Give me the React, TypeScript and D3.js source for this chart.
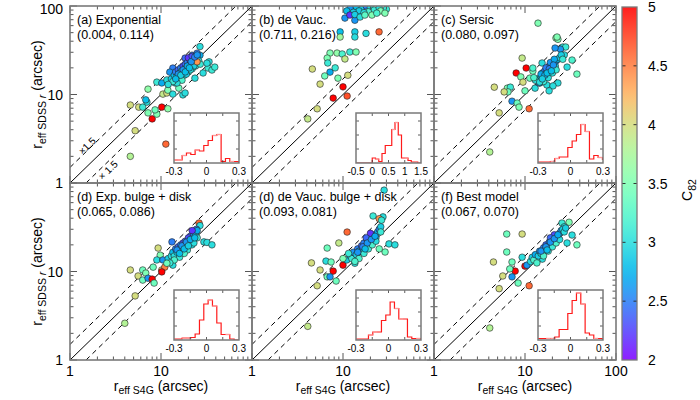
import React from 'react';
import * as d3 from 'd3';

type Pt = [number, number, number]; // [reff S4G, reff SDSS r, C82]

// (a) Exponential
const aPoints: Pt[] = [
  [26.8, 34.8, 3.0], [4.6, 2.0, 3.8], [5.2, 3.9, 4.0], [4.6, 7.6, 4.0], [5.7, 7.2, 4.0], [6.3, 7.2, 3.1],
  [7.0, 8.2, 3.0], [6.8, 8.7, 2.8], [7.2, 6.2, 3.5], [8.0, 5.3, 5.0], [9.0, 6.0, 3.5], [8.6, 6.7, 3.4],
  [10.2, 7.2, 5.0], [11.9, 6.9, 3.6], [11.3, 2.75, 4.6], [7.2, 11.5, 3.6], [9.0, 13.8, 3.1], [10.5, 10.1, 3.9],
  [11.6, 10.4, 4.0], [11.9, 11.2, 3.5], [13.5, 10.1, 3.0], [17.4, 9.9, 3.0], [10.2, 13.5, 2.7], [14.3, 13.5, 3.0],
  [23.6, 15.3, 3.0], [29.0, 17.5, 3.0], [32.9, 19.9, 3.1], [36.3, 18.9, 3.1], [33.7, 23.4, 3.0], [32, 22.6, 3.0],
  [39, 20.4, 3.1], [18.4, 10.4, 3.0], [15.7, 11.8, 3.4], [26.8, 27.8, 2.7], [21.9, 27.8, 2.5], [18.4, 25.8, 2.4],
  [24.9, 29.3, 2.5], [13.5, 19.9, 2.5], [12.5, 17.9, 2.6], [11.6, 14.6, 3.0],
  [13, 15, 2.9], [14, 16.5, 2.8], [14.5, 18, 2.5], [15, 16, 2.9], [15.5, 19, 2.4], [16, 17.5, 2.7],
  [16.5, 20, 2.5], [17, 18.5, 2.9], [17.5, 21, 2.3], [18, 19, 2.8], [18.5, 22, 2.4], [19, 20, 2.9],
  [19.5, 23, 2.5], [20, 21, 2.8], [21, 24, 2.4], [21.5, 22, 2.9], [22, 25, 2.5], [23, 25, 2.6],
  [24, 23, 2.9], [25, 26, 2.7], [26, 24, 3.0], [16, 15, 3.1], [18, 16.5, 3.0], [20, 18, 3.1],
  [22, 19.5, 3.0], [24, 21, 3.1], [17, 14.5, 3.2], [15, 13.5, 3.0], [19, 17, 2.9], [23, 21, 2.9],
  [27, 22, 3.1], [21, 19, 3.0], [13.5, 14, 3.1], [12, 13, 3.0], [24.9, 23.4, 4.4], [20, 26, 2.2], [22, 27, 2.3],
  [15.5, 17, 2.6], [17.5, 19, 2.6], [19.5, 21, 2.7], [21.5, 23.5, 2.6], [23.5, 26.5, 2.5], [16.5, 16.5, 2.9],
  [18.5, 18, 2.8], [20.5, 20, 2.8], [14.5, 15, 2.8], [25, 28, 2.6],
];

// (b) de Vauc.
const bPoints: Pt[] = [
  [12, 95, 2.6], [14, 98, 2.8], [16, 92, 2.9], [18, 100, 2.5], [20, 96, 3.0], [22, 90, 3.1], [25, 95, 3.0],
  [15, 88, 2.9], [19, 86, 3.2], [26, 88, 3.5], [30, 92, 3.1], [11, 88, 2.8], [13, 85, 2.9], [17, 84, 3.0],
  [10.5, 73, 2.6], [11.9, 79, 2.2], [13.5, 69, 2.6], [13.5, 80, 2.9], [15.4, 75, 3.0], [17.4, 79, 3.3],
  [20.8, 79, 3.5], [23.5, 83, 3.2], [28.9, 83, 3.5], [24.9, 51, 4.6], [17.9, 49, 3.0], [13.5, 51, 2.9],
  [13.5, 44.6, 3.0], [9.3, 51, 2.8], [9.3, 44.6, 3.7], [7.2, 29.4, 3.5], [8.6, 29.4, 3.6], [9.8, 28.7, 3.2],
  [11.9, 30.2, 3.1], [13.9, 30.2, 3.5], [6.7, 25.8, 3.5], [10.5, 25.2, 3.9], [6.8, 22.7, 3.1], [4.6, 19.4, 4.0],
  [7.2, 17.9, 2.7], [8.2, 20, 3.1], [6.3, 16.2, 3.4], [8.8, 15.3, 3.5], [11.3, 16.5, 4.0], [5.6, 13.1, 4.0],
  [10.0, 12.2, 5.0], [7.8, 9.1, 5.0], [11.1, 9.6, 4.7], [5.2, 6.9, 4.0], [4.1, 5.3, 3.9],
];

// (c) Sersic
const cPoints: Pt[] = [
  [13.9, 64, 3.5], [21.9, 43.5, 3.6], [23, 42, 3.5], [26.1, 34.4, 3.0], [28, 34.4, 3.1], [24.5, 32.5, 2.6],
  [22.5, 44.6, 3.5], [21.4, 33.5, 2.6], [9.3, 25.8, 3.9], [10.3, 19.9, 5.0], [8.0, 17.5, 5.0], [9.0, 15.8, 3.5],
  [9.5, 13.8, 4.0], [12.2, 18.4, 3.4], [12.2, 19.9, 3.2], [15.4, 22.7, 3.0], [4.6, 12.1, 4.0], [6.4, 11.8, 3.5],
  [6.9, 12.1, 3.1], [6.5, 10.7, 3.4], [5.9, 10.7, 4.0], [5.2, 6.2, 4.0], [7.2, 8.4, 2.6], [8.2, 8.0, 3.4],
  [8.6, 7.2, 3.5], [11.1, 6.9, 4.6], [4.1, 2.24, 3.8], [37.2, 17.0, 3.4], [29, 20.4, 3.0], [32.9, 24.5, 3.2],
  [27, 28, 3.0], [17.4, 12.8, 3.0], [12.9, 11.8, 3.0], [14.6, 13.5, 3.0], [11.3, 15.3, 3.4], [23, 13.5, 3.0],
  [20.3, 12.5, 3.0], [18.4, 11, 3.0], [10, 11, 3.4], [14.3, 13.5, 2.6],
  [14, 15, 2.9], [15, 16, 2.8], [15.5, 17.5, 2.6], [16, 15.5, 3.0], [16.5, 18.5, 2.5], [17, 17, 2.7],
  [17.5, 19.5, 2.4], [18, 18, 2.8], [18.5, 21, 2.3], [19, 19.5, 2.6], [19.5, 22, 2.4], [20, 20, 2.9],
  [21, 23, 2.5], [21.5, 21, 2.9], [22, 24, 2.6], [23, 25, 2.8], [24, 26, 2.9], [16, 14, 3.1],
  [18, 15.5, 3.0], [20, 17.5, 3.0], [22, 19, 3.1], [13, 14.5, 3.0], [14.5, 13.8, 3.0], [17, 20, 2.5],
  [19, 23, 2.6], [15, 17, 2.7], [25, 28, 2.9], [21, 25, 2.7], [12.5, 15.5, 3.2], [26, 25, 3.1],
  [16.5, 16.5, 2.7], [18.5, 19.5, 2.5], [20.5, 21.5, 2.6], [17.5, 17.5, 2.8], [19.5, 18.5, 2.8], [15.5, 15, 2.9],
];

// (d) Exp. bulge + disk
const dPoints: Pt[] = [
  [26.2, 35.3, 4.6], [26.8, 33, 3.0], [24.5, 30, 2.5], [29.6, 21.6, 3.0], [32, 21.3, 3.0], [36.3, 20, 3.0],
  [13.2, 21.6, 2.5], [9.3, 18.4, 4.0], [9.8, 15.3, 3.5], [9.0, 13.5, 3.0], [10.5, 13.5, 2.6], [4.6, 10.4, 4.0],
  [6.3, 10.4, 3.4], [8.2, 11.2, 3.4], [6.8, 9.6, 3.5], [5.6, 8.9, 4.0], [6.3, 8.0, 3.4], [7.2, 8.4, 2.6],
  [8.0, 8.2, 5.0], [8.4, 7.4, 3.4], [10.2, 10.4, 4.1], [11, 11.2, 4.5], [10.2, 9.9, 5.0], [5.2, 5.3, 4.0],
  [4.0, 2.6, 3.8], [13.5, 11.8, 3.0], [21.9, 20, 3.0],
  [12, 14, 2.9], [13, 15, 3.0], [13.5, 16.5, 2.8], [14, 15, 3.0], [14.5, 18, 2.5], [15, 16.5, 2.9],
  [15.5, 19, 2.4], [16, 17.5, 2.9], [16.5, 20, 2.5], [17, 18.5, 2.8], [17.5, 21, 2.3], [18, 19, 3.0],
  [18.5, 22, 2.4], [19, 20, 2.9], [20, 23, 2.5], [20.5, 21, 2.9], [21, 25, 2.4], [22, 23, 2.9],
  [23, 26, 2.6], [24, 27, 2.8], [25, 29, 2.7], [22, 29, 2.2], [19.5, 17.5, 3.1], [16, 14.5, 3.1],
  [18, 16, 3.2], [23, 21, 3.0], [25, 24, 3.1], [14, 13.5, 3.2], [12.5, 12.5, 3.1], [20, 24, 2.3], [11.6, 12.4, 3.4],
  [15, 17.5, 2.6], [17, 19.5, 2.6], [19, 21.5, 2.6], [21, 23, 2.7], [16, 16, 2.8], [18, 18, 2.8],
  [20, 19.5, 2.9], [23.5, 24, 2.8],
];

// (e) de Vauc. bulge + disk
const ePoints: Pt[] = [
  [28.3, 83, 3.0], [21.4, 42.4, 3.1], [27.5, 41.4, 3.0], [25, 39.5, 4.4], [26.5, 38, 3.1], [11.1, 27.9, 4.6],
  [9.0, 21, 3.9], [6.7, 18.4, 3.4], [4.5, 12.5, 4.0], [6.5, 13.1, 3.0], [7.4, 12.8, 3.4], [5.6, 10.4, 4.0],
  [7.8, 10.1, 5.0], [6.7, 8.7, 3.4], [7.2, 8.7, 2.6], [10, 11.8, 5.0], [8.4, 7.8, 3.4], [5.2, 6.9, 4.0],
  [4.1, 2.4, 3.9], [32, 20.5, 3.0], [37.2, 20, 3.0], [29, 16.6, 3.4], [25, 18, 3.4], [13.5, 12.4, 3.0],
  [11, 13.5, 2.9], [12, 15, 2.8], [12.5, 14, 3.1], [13, 16.5, 2.6], [14, 15.5, 2.9], [14.5, 18, 2.5],
  [15, 17, 2.7], [16, 19.5, 2.4], [16.5, 18, 2.8], [17, 21, 2.5], [18, 19.5, 2.9], [18.5, 22.5, 2.4],
  [19, 21, 2.7], [20, 24, 2.5], [21, 22.5, 2.9], [22, 26, 2.6], [23, 24, 2.9], [24, 28, 2.7],
  [25, 30, 2.5], [26, 32, 2.9], [20, 27, 2.2], [15, 14, 3.2], [17, 16, 3.1], [19, 18, 3.1],
  [21, 20, 3.2], [23, 22, 3.0], [13.5, 13, 3.2], [10, 14, 3.5], [11.5, 16, 3.1], [18, 24, 2.4], [26, 28, 3.1],
  [14.5, 16.5, 2.6], [16.5, 19, 2.5], [18.5, 21, 2.6], [20.5, 23, 2.6], [22.5, 25, 2.7], [17.5, 18, 2.8],
];

// (f) Best model
const fPoints: Pt[] = [
  [25.5, 35.3, 3.1], [30.5, 36, 3.5], [27, 32, 3.0], [6.3, 26.5, 3.4], [9.3, 26.5, 4.0], [6.3, 16.6, 3.4],
  [9.3, 14.5, 3.0], [7.2, 12.8, 3.4], [4.5, 12.8, 4.0], [10, 11.5, 5.0], [7.8, 10.1, 5.0], [6.8, 10.7, 3.4],
  [5.7, 8.9, 4.0], [7.2, 8.7, 2.6], [8.4, 7.4, 3.4], [5.2, 6.4, 4.0], [11.1, 6.9, 4.6], [4.1, 2.3, 3.8],
  [37.2, 20, 3.4], [29, 21, 3.0], [32.9, 25.8, 3.0], [15.5, 13.8, 3.0], [13.5, 13.1, 3.0], [10.5, 11.8, 2.6],
  [11.5, 13, 3.0], [12, 14.5, 2.9], [12.5, 13.5, 3.2], [13, 15.5, 2.7], [14, 15, 2.9], [14.5, 17, 2.6],
  [15, 16, 2.9], [16, 18.5, 2.5], [16.5, 17.5, 2.8], [17, 20, 2.4], [18, 19, 2.9], [18.5, 21.5, 2.5],
  [19, 20, 2.8], [20, 23, 2.4], [21, 22, 2.9], [22, 25, 2.6], [23, 24, 2.9], [24, 27, 2.7],
  [25, 29, 2.6], [26, 30, 2.9], [27, 28, 3.0], [21, 26, 2.3], [16, 15, 3.2], [18, 17, 3.1],
  [20, 19, 3.1], [22, 21, 3.2], [24, 23, 3.0], [13.5, 12.5, 3.2], [19, 24, 2.4], [28, 31, 2.9],
  [15, 17, 2.6], [17, 19, 2.6], [19, 21.5, 2.6], [21, 23.5, 2.6], [23, 26, 2.7], [17.5, 17.5, 2.8],
];

const panelPoints = [aPoints, bPoints, cPoints, dPoints, ePoints, fPoints];
const panelNames = ['(a) Exponential', '(b) de Vauc.', '(c) Sersic', '(d) Exp. bulge + disk', '(d) de Vauc. bulge + disk', '(f) Best model'];
const panelStats = ['(0.004, 0.114)', '(0.711, 0.216)', '(0.080, 0.097)', '(0.065, 0.086)', '(0.093, 0.081)', '(0.067, 0.070)'];

// inset histograms of log ratio, heights as fraction of inset height
const histA = [0.06, 0.06, 0.15, 0.2, 0.17, 0.26, 0.24, 0.35, 0.45, 0.55, 0.57, 0.03, 0.09, 0.03, 0.03, 0];
const histB = [0, 0, 0, 0, 0, 0.1, 0.08, 0.03, 0.19, 0.35, 0.35, 0.67, 0.81, 0.56, 0.1, 0.1, 0.05, 0.02, 0.02, 0];
const histC = [0.02, 0.02, 0.02, 0.03, 0.09, 0.12, 0.12, 0.31, 0.44, 0.57, 0.77, 0.63, 0.08, 0.15, 0.11, 0.07];
const histD = [0.02, 0.02, 0.04, 0.04, 0.05, 0.12, 0.4, 0.72, 0.8, 0.68, 0.34, 0.11, 0.11, 0.02, 0, 0];
const histE = [0.02, 0.02, 0.02, 0.1, 0.16, 0.16, 0.39, 0.5, 0.76, 0.63, 0.42, 0.42, 0.06, 0.03, 0.03, 0];
const histF = [0.03, 0.03, 0.03, 0.03, 0.06, 0.21, 0.21, 0.53, 0.79, 0.94, 0.72, 0.14, 0.1, 0.03, 0.03, 0];
const panelHist = [histA, histB, histC, histD, histE, histF];
const pinkBins = [[1, 2, 5, 9, 10, 13], [6, 11, 12, 15], [3, 4, 10, 11, 14], [2, 3, 8, 9, 12], [3, 4, 9, 10, 14], [2, 3, 9, 10, 13]];
const histStart = [-0.305, -0.5, -0.305, -0.305, -0.305, -0.305];
const histStep = [0.04, 0.1, 0.04, 0.04, 0.04, 0.04];
const insetDomains: [number, number][] = [[-0.3, 0.3], [-0.5, 1.5], [-0.3, 0.3], [-0.3, 0.3], [-0.3, 0.3], [-0.3, 0.3]];
const insetLabels = [[-0.3, 0, 0.3], [-0.5, 0, 0.5, 1, 1.5], [-0.3, 0, 0.3], [-0.3, 0, 0.3], [-0.3, 0, 0.3], [-0.3, 0, 0.3]];
const insetTicks = [[-0.15, 0, 0.15], [0, 0.5, 1], [-0.15, 0, 0.15], [-0.15, 0, 0.15], [-0.15, 0, 0.15], [-0.15, 0, 0.15]];
const insetYTicks = [0.28, 0.56, 0.84];

const leftLabels = [[1, 10, 100], [1, 10]];
const bottomLabels = [[1, 10], [1, 10], [1, 10, 100]];
const colorTicks = [2, 2.5, 3, 3.5, 4, 4.5, 5];

const COL_X = [70, 252, 434];
const ROW_Y = [6, 183];
const PW = 182;
const PH = 177;
const FONT = 'Liberation Sans, Arial, Helvetica, sans-serif';
const FRAME = '#7a7a7a';

const cNorm = d3.scaleLinear().domain([2, 5]).range([0, 1]).clamp(true);
// gnuplot rainbow palette (rgbformulae 33,13,10)
function rainbow(c: number) {
  const t = cNorm(c);
  const r = Math.min(1, Math.abs(2 * t - 0.5));
  const g = Math.sin(Math.PI * t);
  const b = Math.cos((Math.PI * t) / 2);
  return d3.rgb(r * 255, g * 255, b * 255).formatHex();
}

function fmt(v: number) {
  return v === 0 ? '0' : String(v);
}

function Inset({ idx, x0, y0 }: { idx: number; x0: number; y0: number }) {
  const ix = x0 + 104;
  const iw = 65;
  const iy = y0 + 107;
  const ih = 50;
  const hx = d3.scaleLinear().domain(insetDomains[idx]).range([ix, ix + iw]);
  const hy = d3.scaleLinear().domain([0, 1]).range([iy + ih, iy]);
  const hist = panelHist[idx];
  const s = histStart[idx];
  const w = histStep[idx];
  const pts: [number, number][] = hist.map((h, i) => [s + i * w, h]);
  pts.push([s + hist.length * w, hist[hist.length - 1]]);
  const line = d3.line<[number, number]>().x(d => hx(d[0])).y(d => hy(d[1])).curve(d3.curveStepAfter);
  const clipId = `inset-clip-${idx}`;
  return (
    <g>
      <defs>
        <clipPath id={clipId}><rect x={ix} y={iy} width={iw} height={ih} /></clipPath>
      </defs>
      <rect x={ix} y={iy} width={iw} height={ih} fill="#fff" />
      <g clipPath={`url(#${clipId})`}>
        <path d={line(pts) || ''} fill="none" stroke="#ff1a1a" strokeWidth={1.2} />
        {pinkBins[idx].map(i => (
          <line key={i} x1={hx(s + i * w)} x2={hx(s + (i + 1) * w)} y1={hy(hist[i])} y2={hy(hist[i])}
            stroke="#ff9c9c" strokeWidth={1.4} />
        ))}
      </g>
      {insetTicks[idx].map(t => (
        <g key={t}>
          <line x1={hx(t)} x2={hx(t)} y1={iy} y2={iy + 3} stroke="#333" strokeWidth={0.8} />
          <line x1={hx(t)} x2={hx(t)} y1={iy + ih} y2={iy + ih - 3} stroke="#333" strokeWidth={0.8} />
        </g>
      ))}
      {insetYTicks.map(t => (
        <g key={t}>
          <line x1={ix} x2={ix + 3} y1={hy(t)} y2={hy(t)} stroke="#333" strokeWidth={0.8} />
          <line x1={ix + iw} x2={ix + iw - 3} y1={hy(t)} y2={hy(t)} stroke="#333" strokeWidth={0.8} />
        </g>
      ))}
      <rect x={ix} y={iy} width={iw} height={ih} fill="none" stroke={FRAME} strokeWidth={1.5} />
      {insetLabels[idx].map(t => (
        <text key={t} x={hx(t)} y={iy + ih + 12} fontSize={10} textAnchor="middle" fontFamily={FONT}>{fmt(t)}</text>
      ))}
    </g>
  );
}

function Panel({ idx }: { idx: number }) {
  const col = idx % 3;
  const row = Math.floor(idx / 3);
  const x0 = COL_X[col];
  const y0 = ROW_Y[row];
  const x = d3.scaleLog().domain([1, 100]).range([x0, x0 + PW]);
  const y = d3.scaleLog().domain([1, 100]).range([y0 + PH, y0]);
  const ticks = x.ticks();
  const isMajor = (t: number) => Math.abs(Math.log10(t) - Math.round(Math.log10(t))) < 1e-9;
  const clipId = `panel-clip-${idx}`;
  const diag = (k: number) => {
    const a = Math.max(1, 1 / k);
    const b = Math.min(100, 100 / k);
    return { x1: x(a), y1: y(a * k), x2: x(b), y2: y(b * k) };
  };
  return (
    <g>
      <defs>
        <clipPath id={clipId}><rect x={x0} y={y0} width={PW} height={PH} /></clipPath>
      </defs>
      <g clipPath={`url(#${clipId})`}>
        <line {...diag(1)} stroke="#000" strokeWidth={1} />
        <line {...diag(1.5)} stroke="#000" strokeWidth={1} strokeDasharray="5,4" />
        <line {...diag(1 / 1.5)} stroke="#000" strokeWidth={1} strokeDasharray="5,4" />
        {panelPoints[idx].map((p, i) => (
          <circle key={i} cx={x(p[0])} cy={y(p[1])} r={3.3} fill={rainbow(p[2])} stroke="#222" strokeWidth={0.6} />
        ))}
      </g>
      {ticks.map(t => {
        const len = isMajor(t) ? 7 : 3.5;
        return (
          <g key={t} stroke="#444" strokeWidth={0.9}>
            <line x1={x(t)} x2={x(t)} y1={y0 + PH} y2={y0 + PH - len} />
            <line x1={x(t)} x2={x(t)} y1={y0} y2={y0 + len} />
            <line x1={x0} x2={x0 + len} y1={y(t)} y2={y(t)} />
            <line x1={x0 + PW} x2={x0 + PW - len} y1={y(t)} y2={y(t)} />
          </g>
        );
      })}
      <rect x={x0} y={y0} width={PW} height={PH} fill="none" stroke={FRAME} strokeWidth={1.6} />
      <Inset idx={idx} x0={x0} y0={y0} />
      <text x={x0 + 7} y={y0 + 18} fontSize={12.5} fontFamily={FONT}>{panelNames[idx]}</text>
      <text x={x0 + 7} y={y0 + 33} fontSize={12.5} fontFamily={FONT}>{panelStats[idx]}</text>
      {idx === 0 && (
        <g fontSize={10} fontFamily={FONT} fill="#000">
          <text transform={`translate(${x(1.54)},${y(2.62)}) rotate(-44)`} textAnchor="middle" dominantBaseline="central">×1.5</text>
          <text transform={`translate(${x(2.61)},${y(1.4)}) rotate(-44)`} textAnchor="middle" dominantBaseline="central">× 1.5</text>
        </g>
      )}
      {col === 0 && leftLabels[row].map(t => (
        <text key={t} x={x0 - 7} y={Math.max(y(t) + 5, 14)} fontSize={14} textAnchor="end" fontFamily={FONT}>{t}</text>
      ))}
      {row === 1 && bottomLabels[col].map(t => (
        <text key={t} x={x(t)} y={y0 + PH + 16} fontSize={14} textAnchor="middle" fontFamily={FONT}>{t}</text>
      ))}
      {row === 1 && (
        <text x={x0 + PW / 2} y={391} fontSize={14} textAnchor="middle" fontFamily={FONT}>
          r<tspan fontSize={10.5} dy={3}>eff S4G</tspan><tspan dy={-3}> (arcsec)</tspan>
        </text>
      )}
      {col === 0 && (
        <text transform={`translate(42,${y0 + PH / 2}) rotate(-90)`} fontSize={14} textAnchor="middle" fontFamily={FONT}>
          r<tspan fontSize={10.5} dy={4}>eff SDSS </tspan><tspan fontSize={10.5} fontStyle="italic">r</tspan><tspan dy={-4}> (arcsec)</tspan>
        </text>
      )}
    </g>
  );
}

function ColorBar() {
  const bx = 622;
  const bw = 15;
  const cy = d3.scaleLinear().domain([2, 5]).range([360, 7]);
  const stops = d3.range(0, 31).map(i => 2 + i * 0.1);
  return (
    <g>
      <defs>
        <linearGradient id="cbar" x1="0" y1="1" x2="0" y2="0">
          {stops.map(v => (
            <stop key={v} offset={`${cNorm(v) * 100}%`} stopColor={rainbow(v)} stopOpacity={0.88} />
          ))}
        </linearGradient>
      </defs>
      <rect x={bx} y={cy(5)} width={bw} height={cy(2) - cy(5)} fill="url(#cbar)" />
      {colorTicks.slice(1, -1).map(t => (
        <g key={t} stroke="#222" strokeWidth={0.9}>
          <line x1={bx} x2={bx + 3.5} y1={cy(t)} y2={cy(t)} />
          <line x1={bx + bw} x2={bx + bw - 3.5} y1={cy(t)} y2={cy(t)} />
        </g>
      ))}
      <rect x={bx} y={cy(5)} width={bw} height={cy(2) - cy(5)} fill="none" stroke={FRAME} strokeWidth={1.3} />
      {colorTicks.map(t => (
        <text key={t} x={648} y={cy(t) + 5} fontSize={14} fontFamily={FONT}>{t}</text>
      ))}
      <text transform="translate(692,190) rotate(-90)" fontSize={14} textAnchor="middle" fontFamily={FONT}>
        C<tspan fontSize={10.5} dy={4}>82</tspan>
      </text>
    </g>
  );
}

export default function App() {
  return (
    <svg width={700} height={400} viewBox="0 0 700 400"
      style={{ position: 'absolute', left: 0, top: 0, background: '#fff' }}>
      <rect width={700} height={400} fill="#fff" />
      {[0, 1, 2, 3, 4, 5].map(i => <Panel key={i} idx={i} />)}
      <ColorBar />
    </svg>
  );
}
